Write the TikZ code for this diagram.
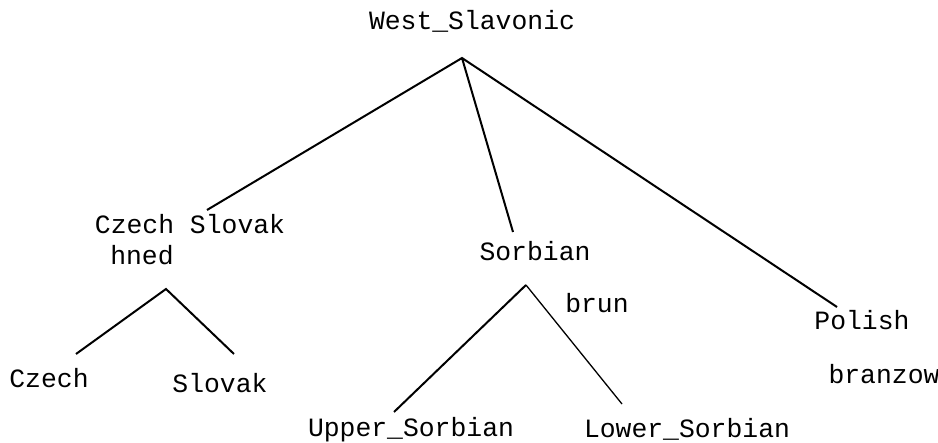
\documentclass[tikz,border=0pt]{standalone}
\usepackage{fontspec}
\setmonofont{Liberation Mono}

\begin{document}
\begin{tikzpicture}[x=1pt,y=-1pt,
  lang/.style={anchor=base,inner sep=0pt,font=\ttfamily\fontsize{26.4}{30}\selectfont},
  branch/.style={line width=2pt},
  twig/.style={line width=1.3pt}]
\useasboundingbox (0,0) rectangle (938,443);
% names
\node[lang] (ws)   at (472,30)  {West\_Slavonic};
\node[lang] (cs)   at (190,234) {Czech Slovak};
\node[lang] (hned) at (142,265) {hned};
\node[lang] (cz)   at (49,388)  {Czech};
\node[lang] (sk)   at (220,393) {Slovak};
\node[lang] (sorb) at (535,261) {Sorbian};
\node[lang] (brun) at (597,313) {brun};
\node[lang] (us)   at (411,437) {Upper\_Sorbian};
\node[lang] (ls)   at (687,438) {Lower\_Sorbian};
\node[lang] (pol)  at (862,330) {Polish};
\node[lang] (bra)  at (884,384) {branzow};
% line ends
\coordinate (ws-fork)   at (462,58);
\coordinate (cs-top)    at (207,210);
\coordinate (sorb-top)  at (513,232);
\coordinate (pol-top)   at (837,307);
\coordinate (cs-fork)   at (166,289);
\coordinate (cz-top)    at (76,354);
\coordinate (sk-top)    at (234,354);
\coordinate (sorb-fork) at (526,285);
\coordinate (us-top)    at (394,412);
\coordinate (ls-top)    at (622,404);
% tree
\draw[branch] (cs-top) -- (ws-fork) -- (pol-top)
              (ws-fork) -- (sorb-top);
\draw[branch] (cz-top) -- (cs-fork) -- (sk-top);
\draw[branch] (us-top) -- (sorb-fork);
\draw[twig] (sorb-fork) -- (ls-top);
\end{tikzpicture}
\end{document}
